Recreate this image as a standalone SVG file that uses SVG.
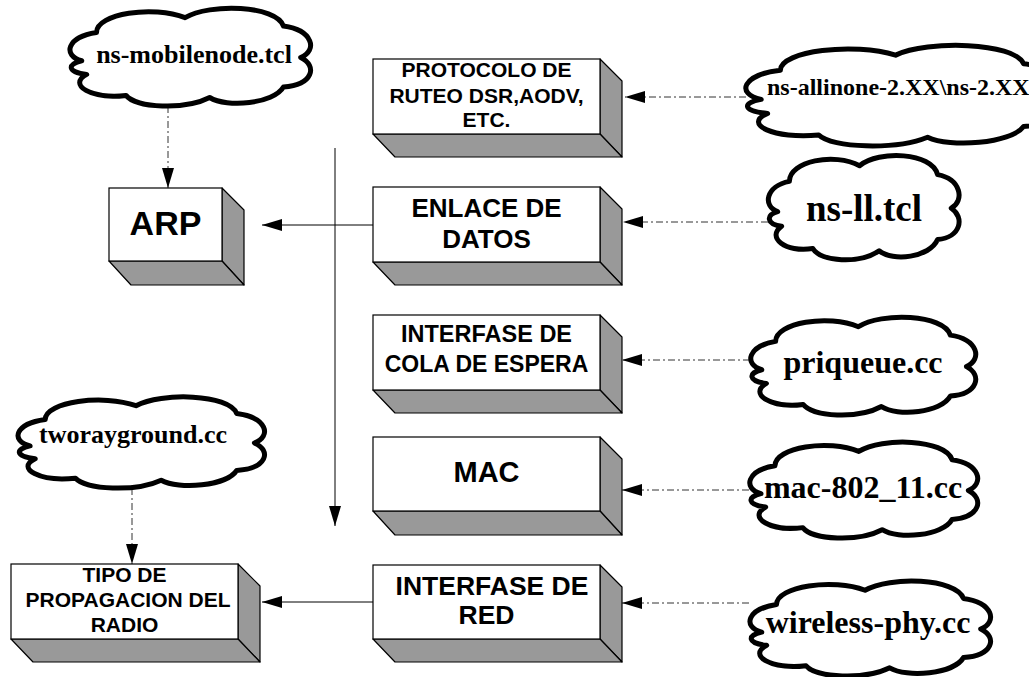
<svg xmlns="http://www.w3.org/2000/svg" width="1029" height="677" viewBox="0 0 1029 677">
  <style>
    .front { fill: #ffffff; stroke: #000; stroke-width: 1.2; }
    .side { fill: #999999; stroke: #000; stroke-width: 1.2; stroke-linejoin: round; }
    .btxt { font-family: "Liberation Sans", Arial, sans-serif; font-weight: bold; fill: #000; text-anchor: middle; }
    .ctxt { font-family: "Liberation Serif", "Times New Roman", serif; font-weight: bold; fill: #000; text-anchor: middle; }
    .cloud { fill: #fff; stroke: #000; stroke-width: 5; stroke-linejoin: round; vector-effect: non-scaling-stroke; }
    .solid { fill: none; stroke: #000; stroke-width: 1; }
    .dashdot { fill: none; stroke: #333; stroke-width: 1; stroke-dasharray: 7 3 2 3; }
  </style>
  <defs>
    <path id="cloudShape" class="cloud" d="M 6,55 C -2,50 0,32 12,28 C 12,10 35,2 48,14 C 58,0 85,2 88,22 C 100,26 102,45 95,52 C 102,60 100,78 88,80 C 84,96 65,100 58,90 C 48,102 28,100 24,88 C 10,92 0,78 8,68 C 0,66 0,58 6,55 Z"/>
    <marker id="ah" viewBox="0 0 20 12" refX="20" refY="6" markerWidth="20" markerHeight="12" markerUnits="userSpaceOnUse" orient="auto">
      <path d="M0,0 L20,6 L0,12 Z" fill="#000"/>
    </marker>
  </defs>

  <g id="connectors">
    <line class="solid" x1="335" y1="148" x2="335" y2="526" marker-end="url(#ah)"/>
    <line class="solid" x1="373" y1="225" x2="262" y2="225" marker-end="url(#ah)"/>
    <line class="solid" x1="373" y1="602" x2="262" y2="602" marker-end="url(#ah)"/>
    <line class="dashdot" x1="168" y1="106" x2="168" y2="188" marker-end="url(#ah)"/>
    <line class="dashdot" x1="132" y1="488" x2="132" y2="564" marker-end="url(#ah)"/>
    <line class="dashdot" x1="746" y1="97" x2="625" y2="97" marker-end="url(#ah)"/>
    <line class="dashdot" x1="768" y1="222" x2="623" y2="222" marker-end="url(#ah)"/>
    <line class="dashdot" x1="750" y1="360" x2="622" y2="360" marker-end="url(#ah)"/>
    <line class="dashdot" x1="749" y1="490" x2="622" y2="490" marker-end="url(#ah)"/>
    <line class="dashdot" x1="749" y1="603" x2="622" y2="603" marker-end="url(#ah)"/>
  </g>

  <g id="node-protocolo">
    <polygon class="side" points="600,59 622,81 622,157 600,134"/>
    <polygon class="side" points="373,134 600,134 622,157 395,157"/>
    <rect class="front" x="373" y="59" width="227" height="75"/>
    <text class="btxt" font-size="21" x="486.5" y="77">PROTOCOLO DE</text>
    <text class="btxt" font-size="21" x="486.5" y="103">RUTEO DSR,AODV,</text>
    <text class="btxt" font-size="21" x="486.5" y="127">ETC.</text>
  </g>

  <g id="node-enlace">
    <polygon class="side" points="600,187 622,209 622,285 600,262"/>
    <polygon class="side" points="373,262 600,262 622,285 395,285"/>
    <rect class="front" x="373" y="187" width="227" height="75"/>
    <text class="btxt" font-size="26" x="486.5" y="217">ENLACE DE</text>
    <text class="btxt" font-size="26" x="486.5" y="248">DATOS</text>
  </g>

  <g id="node-cola">
    <polygon class="side" points="600,315 622,337 622,413 600,390"/>
    <polygon class="side" points="373,390 600,390 622,413 395,413"/>
    <rect class="front" x="373" y="315" width="227" height="75"/>
    <text class="btxt" font-size="23.5" x="486.5" y="342">INTERFASE DE</text>
    <text class="btxt" font-size="23" x="486.5" y="372">COLA DE ESPERA</text>
  </g>

  <g id="node-mac">
    <polygon class="side" points="600,437 622,459 622,535 600,511"/>
    <polygon class="side" points="373,511 600,511 622,535 395,535"/>
    <rect class="front" x="373" y="437" width="227" height="74"/>
    <text class="btxt" font-size="29" x="486.5" y="482">MAC</text>
  </g>

  <g id="node-red">
    <polygon class="side" points="600,565 622,587 622,662 600,639"/>
    <polygon class="side" points="373,639 600,639 622,662 395,662"/>
    <rect class="front" x="373" y="565" width="227" height="74"/>
    <text class="btxt" font-size="26.5" x="492" y="595">INTERFASE DE</text>
    <text class="btxt" font-size="26.5" x="486.5" y="624">RED</text>
  </g>

  <g id="node-arp">
    <polygon class="side" points="222,188 244,210 244,285 222,261"/>
    <polygon class="side" points="109,261 222,261 244,285 131,285"/>
    <rect class="front" x="109" y="188" width="113" height="73"/>
    <text class="btxt" font-size="34" x="165.5" y="235">ARP</text>
  </g>

  <g id="node-tipo">
    <polygon class="side" points="238,564 260,586 260,662 238,639"/>
    <polygon class="side" points="11,639 238,639 260,662 33,662"/>
    <rect class="front" x="11" y="564" width="227" height="75"/>
    <text class="btxt" font-size="21" x="124.5" y="582">TIPO DE</text>
    <text class="btxt" font-size="21" x="128" y="607">PROPAGACION DEL</text>
    <text class="btxt" font-size="21" x="124.5" y="632">RADIO</text>
  </g>

  <g id="cloud-mobilenode">
    <use href="#cloudShape" transform="translate(67,3) scale(2.46,1.05)"/>
    <text class="ctxt" font-size="26" x="194" y="63">ns-mobilenode.tcl</text>
  </g>

  <g id="cloud-allinone">
    <use href="#cloudShape" transform="translate(742,40) scale(3.2,1.08)"/>
    <text class="ctxt" font-size="24" x="767" y="95" style="text-anchor:start">ns-allinone-2.XX\ns-2.XX</text>
  </g>

  <g id="cloud-ll">
    <use href="#cloudShape" transform="translate(766,150) scale(1.95,1.12)"/>
    <text class="ctxt" font-size="37" x="864" y="221">ns-ll.tcl</text>
  </g>

  <g id="cloud-priqueue">
    <use href="#cloudShape" transform="translate(748,312) scale(2.3,1.05)"/>
    <text class="ctxt" font-size="32" x="863" y="373">priqueue.cc</text>
  </g>

  <g id="cloud-mac">
    <use href="#cloudShape" transform="translate(747,437) scale(2.33,1.03)"/>
    <text class="ctxt" font-size="32" x="863" y="498">mac-802_11.cc</text>
  </g>

  <g id="cloud-wireless">
    <use href="#cloudShape" transform="translate(747,576) scale(2.46,1.02)"/>
    <text class="ctxt" font-size="32" x="868" y="633">wireless-phy.cc</text>
  </g>

  <g id="cloud-tworayground">
    <use href="#cloudShape" transform="translate(15,392) scale(2.52,0.98)"/>
    <text class="ctxt" font-size="26" x="133" y="443">tworayground.cc</text>
  </g>
</svg>
